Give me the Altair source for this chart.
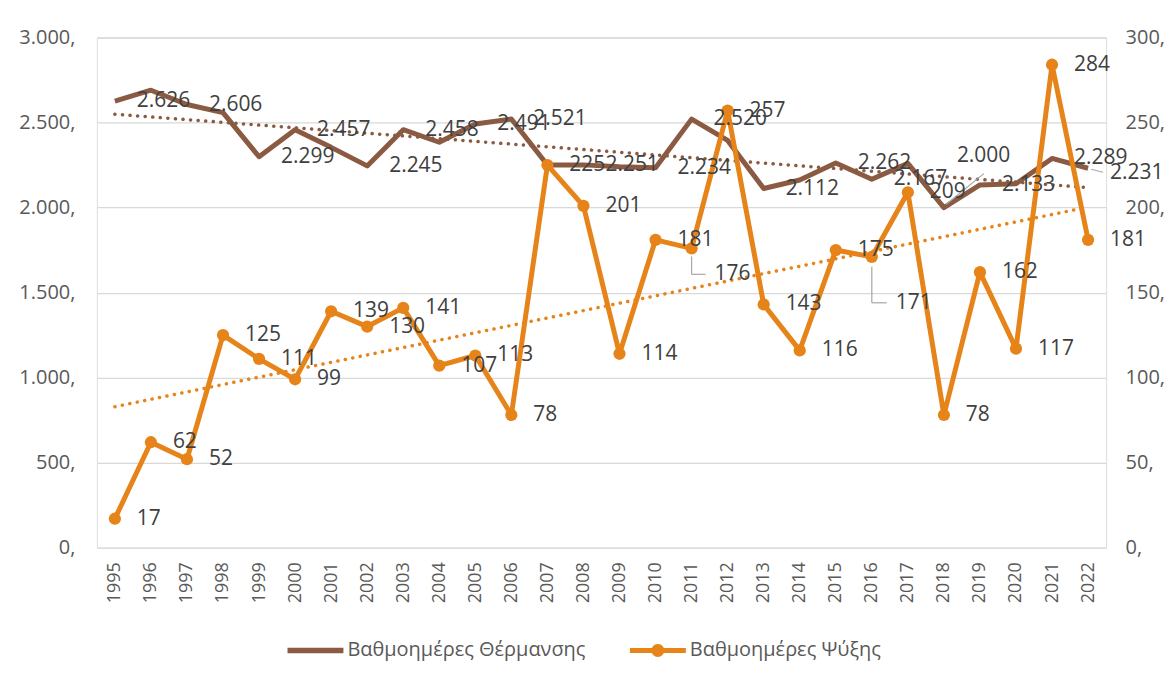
import altair as alt
import pandas as pd

years = list(range(1995, 2023))
heating = [2626, 2690, 2606, 2558, 2299, 2457, 2354, 2245, 2458, 2384, 2491, 2521, 2250, 2251,
           2240, 2234, 2520, 2395, 2112, 2162, 2262, 2167, 2260, 2000, 2133, 2140, 2289, 2231]
cooling = [17, 62, 52, 125, 111, 99, 139, 130, 141, 107, 113, 78, 225, 201,
           114, 181, 176, 257, 143, 116, 175, 171, 209, 78, 162, 117, 284, 181]
heat_label_years = [1995, 1997, 1999, 2000, 2002, 2003, 2005, 2006, 2008, 2010, 2011,
                    2013, 2015, 2016, 2019, 2021]
series_names = ["Βαθμοημέρες Θέρμανσης", "Βαθμοημέρες Ψύξης"]
left_ticks = [0, 500, 1000, 1500, 2000, 2500, 3000]
right_ticks = [0, 50, 100, 150, 200, 250, 300]

BROWN = "#8B5A42"
ORANGE = "#E6841A"
FONT = "Open Sans"
LABEL_C = "#404040"
AXIS_C = "#595959"
GRID_C = "#D9D9D9"

df = pd.DataFrame({"year": years, "heating": heating, "cooling": cooling})
base = alt.Chart(df)

x_axis = alt.Axis(values=years, format="d", labelAngle=-90, grid=False,
                  ticks=False, domain=False, labelFont=FONT, labelFontSize=18,
                  labelColor=AXIS_C, labelPadding=14, title=None)


def xq():
    return alt.X("year:Q", scale=alt.Scale(domain=[1994.5, 2022.5], nice=False, zero=False),
                 axis=x_axis, title=None)


def yh(axis=None):
    return alt.Y("heating:Q", scale=alt.Scale(domain=[0, 3000], nice=False), axis=axis, title=None)


def yc(axis=None):
    return alt.Y("cooling:Q", scale=alt.Scale(domain=[0, 300], nice=False), axis=axis, title=None)


left_axis = alt.Axis(orient="left", values=left_ticks, grid=True, gridColor=GRID_C, gridWidth=1.3,
                     ticks=False, domain=False, labelFont=FONT, labelFontSize=20, labelColor=AXIS_C,
                     labelPadding=22,
                     labelExpr="replace(format(datum.value, ','), ',', '.') + ','")
right_axis = alt.Axis(orient="right", values=right_ticks, grid=False, ticks=False, domain=False,
                      labelFont=FONT, labelFontSize=20, labelColor=AXIS_C, labelPadding=19,
                      labelExpr="format(datum.value, 'd') + ','")

heat_line = base.mark_line(color=BROWN, strokeWidth=5, strokeJoin="round").encode(
    x=xq(), y=yh(left_axis))
heat_trend = base.transform_regression("year", "heating").mark_line(
    color=BROWN, strokeWidth=3.5, strokeDash=[0.1, 7.5], strokeCap="round").encode(
    x=xq(), y=yh())

cool_line = base.mark_line(color=ORANGE, strokeWidth=5, strokeJoin="round").encode(
    x=xq(), y=yc(right_axis))
cool_pts = base.mark_circle(color=ORANGE, size=150, opacity=1).encode(x=xq(), y=yc())
cool_trend = base.transform_regression("year", "cooling").mark_line(
    color=ORANGE, strokeWidth=3.5, strokeDash=[0.1, 7.5], strokeCap="round").encode(
    x=xq(), y=yc())

txt = dict(align="left", baseline="middle", font=FONT, fontSize=21, color=LABEL_C)
heat_fmt = "replace(format(datum.heating, ','), ',', '.')"

heat_labels = base.transform_filter(
    alt.FieldOneOfPredicate(field="year", oneOf=heat_label_years)
).transform_calculate(lab=heat_fmt).mark_text(dx=22, **txt).encode(
    x=xq(), y=yh(), text="lab:N")
heat_lab_2018 = base.transform_filter(alt.datum.year == 2018).transform_calculate(
    lab=heat_fmt).mark_text(dx=13, dy=-52, **txt).encode(x=xq(), y=yh(), text="lab:N")
heat_lab_2022 = base.transform_filter(alt.datum.year == 2022).transform_calculate(
    lab=heat_fmt).mark_text(dx=22, dy=5, **txt).encode(x=xq(), y=yh(), text="lab:N")

cool_labels = base.transform_filter(
    (alt.datum.year != 2011) & (alt.datum.year != 2016)
).mark_text(dx=22, **txt).encode(x=xq(), y=yc(), text="cooling:Q")
cool_lab_2011 = base.transform_filter(alt.datum.year == 2011).mark_text(
    dx=23, dy=26, **txt).encode(x=xq(), y=yc(), text="cooling:Q")
cool_lab_2016 = base.transform_filter(alt.datum.year == 2016).mark_text(
    dx=24, dy=46, **txt).encode(x=xq(), y=yc(), text="cooling:Q")

LEAD = dict(color="#A6A6A6", strokeWidth=1.2)


def leader(yr, field, yfun, **offs):
    return base.transform_filter(alt.datum.year == yr).mark_rule(**LEAD, **offs).encode(
        x=xq(), x2="year:Q", y=yfun(), y2=f"{field}:Q")


leaders = [
    leader(2011, "cooling", yc, yOffset=8, y2Offset=26),
    leader(2011, "cooling", yc, x2Offset=14, yOffset=26, y2Offset=26),
    leader(2016, "cooling", yc, yOffset=10, y2Offset=46),
    leader(2016, "cooling", yc, x2Offset=15, yOffset=46, y2Offset=46),
    leader(2018, "heating", yh, xOffset=2, yOffset=-3, x2Offset=40, y2Offset=-34),
    leader(2022, "heating", yh, xOffset=3, yOffset=1, x2Offset=15, y2Offset=4),
]

path_heat = "M-1,-0.1L1,-0.1L1,0.1L-1,0.1Z"
path_cool = ("M-1,-0.09L1,-0.09L1,0.09L-1,0.09Z"
             "M0.23,0A0.23,0.23,0,1,1,-0.23,0A0.23,0.23,0,1,1,0.23,0Z")

leg = alt.Legend(orient="none", legendX=191, legendY=586, direction="horizontal", title=None,
                 labelFont=FONT, labelFontSize=20, labelColor=AXIS_C, symbolSize=3136,
                 labelOffset=4, columnPadding=44, symbolStrokeWidth=0, labelLimit=0)
legend_df = pd.DataFrame({"series": series_names})
legend_layer = alt.Chart(legend_df).mark_point(filled=True, size=3136, opacity=1).encode(
    x=alt.value(-3000), y=alt.value(-3000),
    color=alt.Color("series:N", scale=alt.Scale(domain=series_names, range=[BROWN, ORANGE]),
                    legend=leg),
    shape=alt.Shape("series:N", scale=alt.Scale(domain=series_names, range=[path_heat, path_cool]),
                    legend=leg),
)

chart = alt.layer(
    heat_line, heat_trend, cool_line, cool_pts, cool_trend,
    *leaders,
    heat_labels, heat_lab_2018, heat_lab_2022,
    cool_labels, cool_lab_2011, cool_lab_2016,
    legend_layer,
).resolve_scale(y="independent").properties(
    width=1011, height=511,
    autosize=alt.AutoSizeParams(type="none"),
    padding={"left": 89, "top": 29, "right": 60, "bottom": 120},
).configure_view(stroke=None).configure(background="white")

chart.save("out.html", embed_options={"renderer": "svg", "actions": False})
